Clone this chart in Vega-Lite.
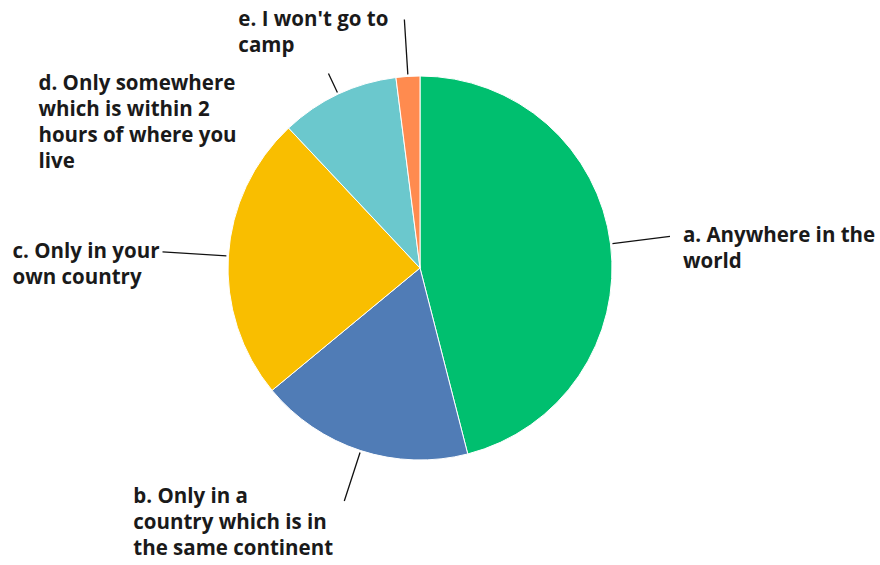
{
  "$schema": "https://vega.github.io/schema/vega-lite/v6.json",
  "autosize": "none",
  "padding": {"left": 0, "top": 0, "right": 40, "bottom": 29},
  "width": 840,
  "height": 536,
  "background": "white",
  "config": {"view": {"stroke": null}},
  "data": {"values": [
    {"answer": "a. Anywhere in the world", "label": "a. Anywhere in the\nworld", "share": 46, "order": 1},
    {"answer": "b. Only in a country which is in the same continent", "label": "b. Only in a\ncountry which is in\nthe same continent", "share": 18, "order": 2},
    {"answer": "c. Only in your own country", "label": "c. Only in your\nown country", "share": 24, "order": 3},
    {"answer": "d. Only somewhere which is within 2 hours of where you live", "label": "d. Only somewhere\nwhich is within 2\nhours of where you\nlive", "share": 10, "order": 4},
    {"answer": "e. I won't go to camp", "label": "e. I won't go to\ncamp", "share": 2, "order": 5}
  ]},
  "transform": [
    {"stack": "share", "groupby": [], "sort": [{"field": "order"}], "as": ["s0", "s1"]},
    {"calculate": "(datum.s0 + datum.s1) / 2", "as": "mid"}
  ],
  "layer": [
    {
      "mark": {"type": "arc", "outerRadius": 192, "stroke": "white", "strokeWidth": 1},
      "encoding": {
        "theta": {"field": "s0", "type": "quantitative", "scale": {"domain": [0, 100]}},
        "theta2": {"field": "s1"},
        "color": {"field": "answer", "type": "nominal", "legend": null,
          "scale": {"domain": [
            "a. Anywhere in the world",
            "b. Only in a country which is in the same continent",
            "c. Only in your own country",
            "d. Only somewhere which is within 2 hours of where you live",
            "e. I won't go to camp"],
            "range": ["#00BF6F", "#507CB6", "#F9BE00", "#6BC8CD", "#FF8B4F"]}}
      }
    },
    {
      "transform": [{"filter": "datum.order == 1"}],
      "layer": [
        {"mark": {"type": "arc", "radius": 194, "radius2": 252, "fill": null, "stroke": "#111", "strokeWidth": 1.3},
         "encoding": {"theta": {"field": "mid", "type": "quantitative", "scale": {"domain": [0, 100]}}, "theta2": {"field": "mid"}}},
        {"mark": {"type": "text", "radius": 265, "align": "left", "baseline": "middle", "dy": 1, "lineBreak": "\n", "font": "Open Sans", "fontWeight": "bold", "fontSize": 20.5, "lineHeight": 26, "color": "#1a1a1a"},
         "encoding": {"theta": {"field": "mid", "type": "quantitative", "scale": {"domain": [0, 100]}}, "text": {"field": "label"}}}
      ]
    },
    {
      "transform": [{"filter": "datum.order == 2"}],
      "layer": [
        {"mark": {"type": "arc", "radius": 194, "radius2": 245, "fill": null, "stroke": "#111", "strokeWidth": 1.3},
         "encoding": {"theta": {"field": "mid", "type": "quantitative", "scale": {"domain": [0, 100]}}, "theta2": {"field": "mid"}}},
        {"mark": {"type": "text", "radius": 245, "align": "left", "baseline": "middle", "dx": -211, "dy": -4, "lineBreak": "\n", "font": "Open Sans", "fontWeight": "bold", "fontSize": 20.5, "lineHeight": 26, "color": "#1a1a1a"},
         "encoding": {"theta": {"field": "mid", "type": "quantitative", "scale": {"domain": [0, 100]}}, "text": {"field": "label"}}}
      ]
    },
    {
      "transform": [{"filter": "datum.order == 3"}],
      "layer": [
        {"mark": {"type": "arc", "radius": 194, "radius2": 258, "fill": null, "stroke": "#111", "strokeWidth": 1.3},
         "encoding": {"theta": {"field": "mid", "type": "quantitative", "scale": {"domain": [0, 100]}}, "theta2": {"field": "mid"}}},
        {"mark": {"type": "text", "radius": 258, "align": "left", "baseline": "middle", "dx": -150, "dy": 0, "lineBreak": "\n", "font": "Open Sans", "fontWeight": "bold", "fontSize": 20.5, "lineHeight": 26, "color": "#1a1a1a"},
         "encoding": {"theta": {"field": "mid", "type": "quantitative", "scale": {"domain": [0, 100]}}, "text": {"field": "label"}}}
      ]
    },
    {
      "transform": [{"filter": "datum.order == 4"}],
      "layer": [
        {"mark": {"type": "arc", "radius": 194, "radius2": 215, "fill": null, "stroke": "#111", "strokeWidth": 1.3},
         "encoding": {"theta": {"field": "mid", "type": "quantitative", "scale": {"domain": [0, 100]}}, "theta2": {"field": "mid"}}},
        {"mark": {"type": "text", "radius": 215, "align": "left", "baseline": "middle", "dx": -290, "dy": 10.5, "lineBreak": "\n", "font": "Open Sans", "fontWeight": "bold", "fontSize": 20.5, "lineHeight": 26, "color": "#1a1a1a"},
         "encoding": {"theta": {"field": "mid", "type": "quantitative", "scale": {"domain": [0, 100]}}, "text": {"field": "label"}}}
      ]
    },
    {
      "transform": [{"filter": "datum.order == 5"}],
      "layer": [
        {"mark": {"type": "arc", "radius": 194, "radius2": 249, "fill": null, "stroke": "#111", "strokeWidth": 1.3},
         "encoding": {"theta": {"field": "mid", "type": "quantitative", "scale": {"domain": [0, 100]}}, "theta2": {"field": "mid"}}},
        {"mark": {"type": "text", "radius": 249, "align": "left", "baseline": "middle", "dx": -166, "dy": 1, "lineBreak": "\n", "font": "Open Sans", "fontWeight": "bold", "fontSize": 20.5, "lineHeight": 26, "color": "#1a1a1a"},
         "encoding": {"theta": {"field": "mid", "type": "quantitative", "scale": {"domain": [0, 100]}}, "text": {"field": "label"}}}
      ]
    }
  ]
}
